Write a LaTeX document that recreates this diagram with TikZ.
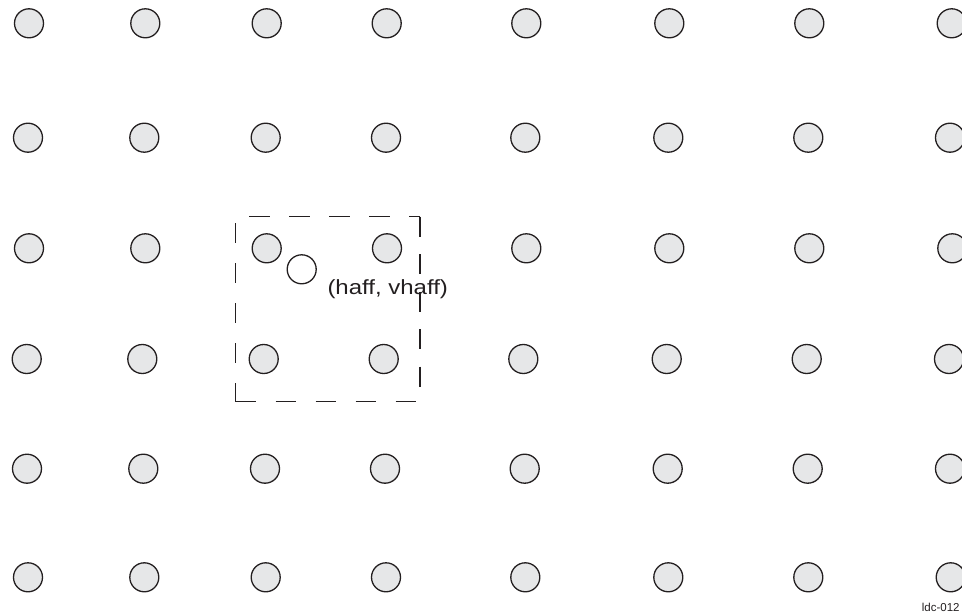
\documentclass[tikz,border=0pt]{standalone}
\usepackage{graphicx}
\usepackage{fontspec}
\setmainfont{Liberation Sans}
\definecolor{dotfill}{HTML}{E6E7E8}
\definecolor{inkline}{HTML}{231F20}
\begin{document}
\begin{tikzpicture}[x=1pt,y=-1pt,
  dot/.style={circle,draw=inkline,line width=1.3pt,fill=dotfill,minimum size=29pt,inner sep=0pt},
  hollowdot/.style={dot,fill=white},
  boxline/.style={draw=inkline,line width=1.2pt},
  lbl/.style={inner sep=0pt,anchor=base west,text=inkline}]
\useasboundingbox (0,0) rectangle (962,615);
% row 1
\foreach \x [count=\i] in {29,145.3,266.7,386.7,526.3,669.3,809.3,951.7}
  \node[dot] (d1-\i) at (\x,23.3) {};
% row 2
\foreach \x [count=\i] in {28,144.3,265.7,386,525.3,668.3,808.3,950}
  \node[dot] (d2-\i) at (\x,137.7) {};
% row 3
\foreach \x [count=\i] in {29,145.3,266.7,387,526.3,669.3,809.3,952.3}
  \node[dot] (d3-\i) at (\x,248.3) {};
% row 4
\foreach \x [count=\i] in {26.7,142.3,263.7,383.7,523.3,666.7,806.7,949}
  \node[dot] (d4-\i) at (\x,359) {};
% row 5
\foreach \x [count=\i] in {27,143.3,265,385,524.7,667.7,807.7,950}
  \node[dot] (d5-\i) at (\x,468.7) {};
% row 6
\foreach \x [count=\i] in {28,144.3,265.7,386,525.3,668.3,808.3,950.7}
  \node[dot] (d6-\i) at (\x,577.3) {};
% interpolation box
\coordinate (tl) at (235.7,216.7);
\coordinate (tr) at (420,216.7);
\coordinate (br) at (420,401.7);
\coordinate (bl) at (235.7,401.7);
\draw[boxline,dash pattern=on 21pt off 19pt,dash phase=26.7pt] (tl) -- (tr);
\draw[boxline,dash pattern=on 20pt off 17.5pt] (tr) -- (br);
\draw[boxline,dash pattern=on 20pt off 20pt,dash phase=33.4pt] (tl) -- (bl);
\draw[boxline,dash pattern=on 20pt off 20pt] (bl) -- (br);
\node[hollowdot] (pt) at (301.7,269.3) {};
\node[lbl,font=\fontsize{20.5pt}{24pt}\selectfont] (ptlabel) at (327.3,294) {\scalebox{1.17}[1]{(haff, vhaff)}};
\node[lbl,font=\fontsize{11.5pt}{13pt}\selectfont] (fig) at (921.7,611.5) {ldc-012};
\end{tikzpicture}
\end{document}
